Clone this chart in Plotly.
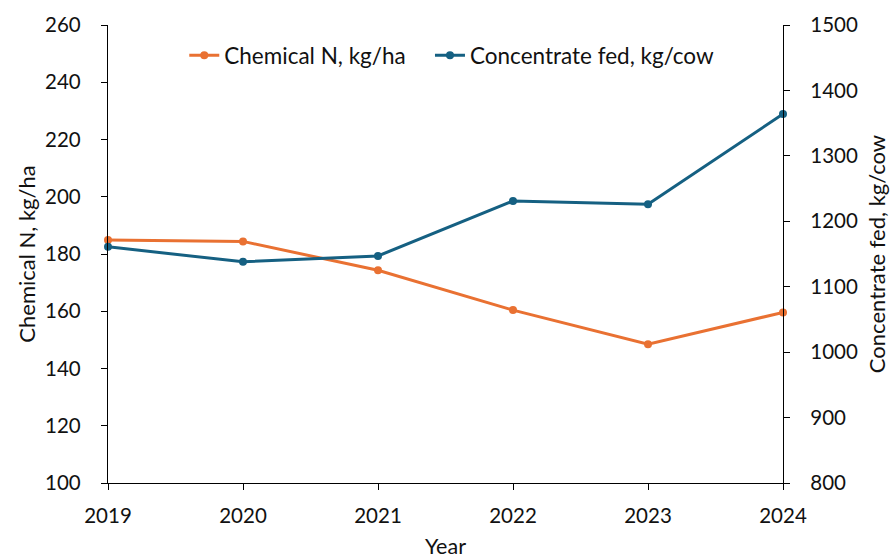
import plotly.graph_objects as go

years = [2019, 2020, 2021, 2022, 2023, 2024]
chemical_n = [184.9, 184.4, 174.3, 160.4, 148.5, 159.6]
concentrate = [1161, 1138, 1147, 1231, 1226, 1364]

orange = "#E97132"
blue = "#156082"
font_family = "Lato, 'Open Sans', sans-serif"
text_color = "#111111"

fig = go.Figure()
fig.add_trace(go.Scatter(
    x=years, y=chemical_n, name="Chemical N, kg/ha",
    mode="lines+markers", line=dict(color=orange, width=3),
    marker=dict(size=8, color=orange), cliponaxis=False, yaxis="y",
    legend="legend",
))
fig.add_trace(go.Scatter(
    x=years, y=concentrate, name="Concentrate fed, kg/cow",
    mode="lines+markers", line=dict(color=blue, width=3),
    marker=dict(size=8, color=blue), cliponaxis=False, yaxis="y2",
    legend="legend2",
))

axis_common = dict(
    showgrid=False, zeroline=False, showline=True, linecolor="black",
    linewidth=1.3, ticks="outside", tickcolor="black", ticklen=6, tickwidth=1.3,
    tickfont=dict(size=20.5, color=text_color, family=font_family),
    automargin=False,
)

legend_common = dict(
    orientation="h", y=0.98, yanchor="top", xanchor="left",
    font=dict(size=22.5), bgcolor="rgba(0,0,0,0)", itemwidth=30,
)

fig.update_layout(
    width=890, height=559,
    margin=dict(l=108, r=107, t=25, b=76),
    paper_bgcolor="white", plot_bgcolor="white",
    font=dict(family=font_family, color=text_color),
    xaxis=dict(range=[2019, 2024], tickvals=years, ticklabelstandoff=8, **axis_common,
               title=dict(text="Year", font=dict(size=21.5), standoff=18)),
    yaxis=dict(range=[100, 260], dtick=20, ticklabelstandoff=16, **axis_common,
               title=dict(text="Chemical N, kg/ha", font=dict(size=22), standoff=3)),
    yaxis2=dict(range=[800, 1500], dtick=100, overlaying="y", side="right",
                ticklabelstandoff=16, **axis_common,
                title=dict(text="Concentrate fed, kg/cow", font=dict(size=22), standoff=16)),
    legend=dict(x=0.113, **legend_common),
    legend2=dict(x=0.477, **legend_common),
    showlegend=True,
)

fig.write_html("out.html")
